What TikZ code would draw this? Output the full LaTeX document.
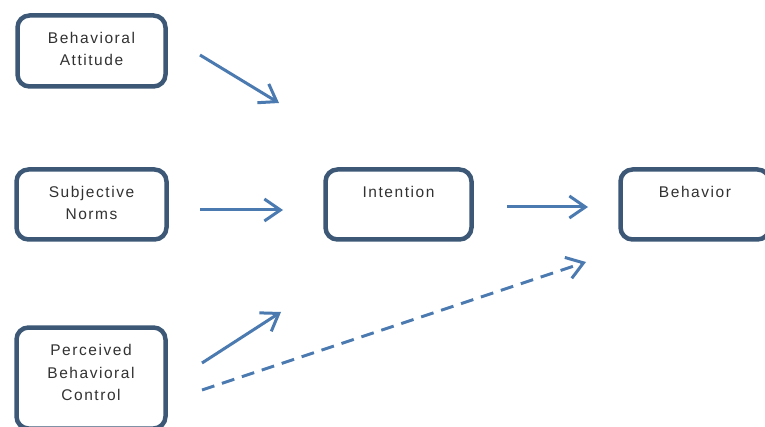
\documentclass[tikz,border=0pt]{standalone}
\usepackage{fontspec}
\setmainfont{Liberation Sans}[LetterSpace=10]
\usetikzlibrary{arrows.meta}
\definecolor{boxc}{RGB}{60,88,118}
\definecolor{arr}{RGB}{74,122,176}
\definecolor{txt}{RGB}{50,50,50}
\newcommand{\bxt}[2]{\parbox[c][#1][t]{140pt}{\centering\fontsize{15.5}{22.5}\selectfont\rule{0pt}{28pt}#2}}
\begin{document}
\begin{tikzpicture}[x=1pt,y=-1pt,
  box/.style={draw=boxc, line width=4.5pt, rounded corners=12pt, fill=white, inner sep=0pt, text=txt},
  conn/.style={draw=arr, line width=3pt, -{Straight Barb[length=16pt,width=22pt]}}]
\useasboundingbox[fill=white] (0,0) rectangle (765,427);
\clip (0,0) rectangle (765,427);
\node[box, minimum width=148pt, minimum height=71pt] (att) at (91.5,51) {\bxt{71pt}{Behavioral\\Attitude}};
\node[box, minimum width=150pt, minimum height=70pt] (sub) at (91.5,204.5) {\bxt{70pt}{Subjective\\Norms}};
\node[box, minimum width=149pt, minimum height=101pt] (pbc) at (91,378) {\bxt{101pt}{Perceived\\Behavioral\\Control}};
\node[box, minimum width=146pt, minimum height=70pt] (int) at (398.5,204.5) {\bxt{70pt}{Intention}};
\node[box, minimum width=149pt, minimum height=70pt] (beh) at (695,204.5) {\bxt{70pt}{Behavior}};
\coordinate (a1s) at (200,55);  \coordinate (a1e) at (279,103);
\coordinate (a2s) at (200,210); \coordinate (a2e) at (283,210);
\coordinate (a3s) at (202,363); \coordinate (a3e) at (281,312);
\coordinate (a4s) at (507,207); \coordinate (a4e) at (588,207);
\coordinate (a5s) at (202,390); \coordinate (a5e) at (586,262);
\draw[conn] (a1s) -- (a1e);
\draw[conn] (a2s) -- (a2e);
\draw[conn] (a3s) -- (a3e);
\draw[conn] (a4s) -- (a4e);
\draw[conn, dash pattern=on 13pt off 8pt] (a5s) -- (a5e);
\end{tikzpicture}
\end{document}
